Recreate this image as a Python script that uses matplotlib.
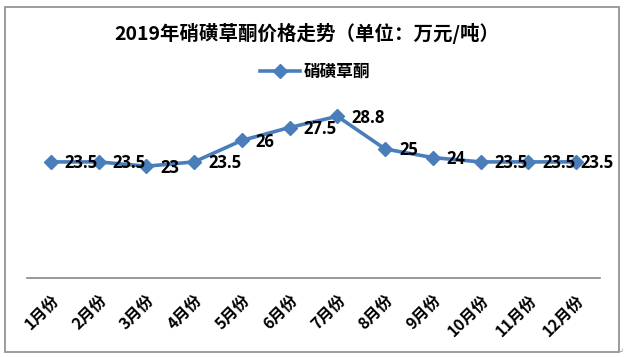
import matplotlib.pyplot as plt
from matplotlib.patches import Rectangle

plt.rcParams['font.family'] = ['Noto Sans CJK SC', 'DejaVu Sans']

months = ['1月份', '2月份', '3月份', '4月份', '5月份', '6月份',
          '7月份', '8月份', '9月份', '10月份', '11月份', '12月份']
prices = [23.5, 23.5, 23, 23.5, 26, 27.5, 28.8, 25, 24, 23.5, 23.5, 23.5]
series_name = '硝磺草酮'
title = '2019年硝磺草酮价格走势（单位：万元/吨）'

line_color = '#4A7EBB'
axis_color = '#868686'

fig = plt.figure(figsize=(6.24, 3.57), dpi=100)
fig.patch.set_facecolor('white')

# outer chart border
fig.add_artist(Rectangle((5 / 624, 5 / 357), 614 / 624, 345 / 357, transform=fig.transFigure,
                         fill=False, edgecolor='#8c8c8c', linewidth=1.2))

ax = fig.add_axes([27 / 624, 79 / 357, 573 / 624, 172 / 357])
x = list(range(len(months)))
ax.plot(x, prices, color=line_color, linewidth=2.6, marker='D', markersize=7.5,
        markerfacecolor=line_color, markeredgecolor=line_color, label=series_name, zorder=2)

for xi, v in zip(x, prices):
    dx = 3 if xi == len(months) - 1 else 10
    ax.annotate(f'{v:g}', xy=(xi, v), xytext=(dx, -1), textcoords='offset points',
                ha='left', va='center', fontsize=12, fontweight='bold',
                family=['Open Sans', 'DejaVu Sans'], zorder=3)

ax.set_xlim(-0.5, len(months) - 0.5)
ax.set_ylim(10, 30)
ax.set_yticks([])
ax.set_xticks(x)
ax.set_xticklabels(months, rotation=45, ha='right', va='top', rotation_mode='anchor',
                   fontsize=11.5, fontweight='bold')
ax.tick_params(axis='x', length=0, pad=10)
for side in ['top', 'right', 'left']:
    ax.spines[side].set_visible(False)
ax.spines['bottom'].set_color(axis_color)
ax.spines['bottom'].set_linewidth(1.2)

fig.text(0.492, 1 - 33 / 357, title, ha='center', va='center', fontsize=14, fontweight='bold')

fig.legend(loc='center', bbox_to_anchor=(0.505, 1 - 72 / 357), frameon=False,
           prop={'size': 12, 'weight': 'bold'}, handlelength=2.4, handletextpad=0.2)

fig.text(620 / 624, 1 - 351 / 357, '↵', ha='center', va='center', fontsize=6,
         color='#999999', family=['DejaVu Sans'])

fig.savefig('out.png', dpi=100)
